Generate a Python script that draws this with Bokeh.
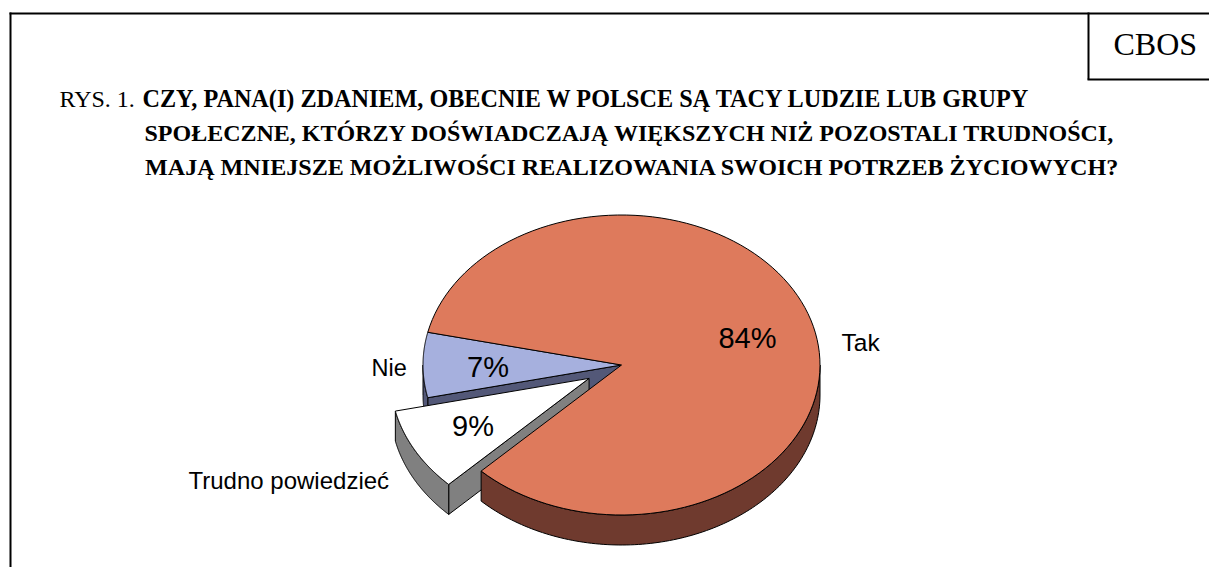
import numpy as np
from bokeh.plotting import figure
from bokeh.models import Range1d
from bokeh.core.properties import value
from bokeh.embed import file_html
from bokeh.resources import INLINE

categories = ["Tak", "Nie", "Trudno powiedzieć"]
shares = [84, 7, 9]
top_colors = ["#DE7A5C", "#A6B0DE", "#FFFFFF"]
side_colors = ["#6F3A2E", "#535878", "#808080"]
title_prefix = "RYS. 1."
title_lines = ["CZY, PANA(I) ZDANIEM, OBECNIE W POLSCE SĄ TACY LUDZIE LUB GRUPY",
               "SPOŁECZNE, KTÓRZY DOŚWIADCZAJĄ WIĘKSZYCH NIŻ POZOSTALI TRUDNOŚCI,",
               "MAJĄ MNIEJSZE MOŻLIWOŚCI REALIZOWANIA SWOICH POTRZEB ŻYCIOWYCH?"]
badge = "CBOS"

CX, CY, RX, RY, DEPTH, EXPLODE = 622.0, 365.5, 198.5, 150.0, 30.0, 37.0
FIRST_ANGLE = 225.0

p = figure(width=1209, height=567, output_backend="svg", toolbar_location=None,
           x_range=Range1d(1, 1210), y_range=Range1d(568, 1), min_border=0)
p.axis.visible = False
p.grid.visible = False
p.outline_line_color = None

# Slice angles (counter-clockwise on screen, 0 = right)
spans = [s / sum(shares) * 360 for s in shares]
starts = [FIRST_ANGLE, FIRST_ANGLE + spans[0], FIRST_ANGLE + spans[0] + spans[1]]


def pt(a, ox, oy, dz=0.0):
    r = np.radians(a)
    return ox + RX * np.cos(r), oy - RY * np.sin(r) + dz


def arc(a0, a1, ox, oy, dz=0.0):
    t = np.radians(np.linspace(a0, a1, 120))
    return ox + RX * np.cos(t), oy - RY * np.sin(t) + dz


def poly(xs, ys, fill):
    p.patch(list(xs), list(ys), fill_color=fill, line_color="black", line_width=1, line_join="round")


def draw(idx, ox, oy, front_face_at_end):
    a0, a1 = starts[idx], starts[idx] + spans[idx]
    # visible rim: the part of the slice in the front half (180..360 deg)
    lo, hi = a0 % 360, a1 % 360
    if hi < lo:
        hi += 360
    segs = []
    for k in (0, 360):
        s, e = max(lo, 180 + k), min(hi, 360 + k)
        if e > s:
            segs.append((s, e))
    # straight cut face that looks towards the viewer
    if front_face_at_end is not None:
        x1, y1 = pt(front_face_at_end, ox, oy)
        poly([ox, x1, x1, ox], [oy, y1, y1 + DEPTH, oy + DEPTH], side_colors[idx])
    for s, e in segs:
        x0, y0 = arc(s, e, ox, oy)
        x1, y1 = arc(s, e, ox, oy, DEPTH)
        poly(np.r_[x0, x1[::-1]], np.r_[y0, y1[::-1]], side_colors[idx])
    xs, ys = arc(a0, a1, ox, oy)
    poly(np.r_[ox, xs], np.r_[oy, ys], top_colors[idx])


# Nie
draw(1, CX, CY, starts[1] + spans[1])
# Trudno powiedzieć (pulled out along its bisector)
mid = np.radians(starts[2] + spans[2] / 2)
ex, ey = CX + EXPLODE * np.cos(mid), CY - EXPLODE * 0.75 * np.sin(mid)
draw(2, ex, ey, FIRST_ANGLE)
# Tak
draw(0, CX, CY, None)


def txt(x, y, s, font, size, style="normal", align="left"):
    p.text([x], [y], text=[s], text_font=value(font), text_font_size=size, text_font_style=style,
           text_align=align, text_baseline="middle", text_color="black")


SERIF, SANS = "Liberation Serif", "Liberation Sans"
txt(60, 99, title_prefix, SERIF, "24px")
txt(143, 99, title_lines[0], SERIF, "24.2px", "bold")
txt(145, 133, title_lines[1], SERIF, "24px", "bold")
txt(145.5, 167.5, title_lines[2], SERIF, "24.1px", "bold")
txt(1114, 44, badge, SERIF, "32px")

txt(748, 338, f"{shares[0]}%", SANS, "29px", align="center")
txt(488.5, 367, f"{shares[1]}%", SANS, "29px", align="center")
txt(473.5, 426, f"{shares[2]}%", SANS, "29px", align="center")
txt(842, 343, categories[0], SANS, "24.5px")
txt(372, 368, categories[1], SANS, "23.5px")
txt(189, 481, categories[2], SANS, "24px")

# frame
p.line([11, 11], [13, 568], line_color="black", line_width=2)
p.line([10, 1210], [14, 14], line_color="black", line_width=2)
p.line([1089, 1089], [13, 80], line_color="black", line_width=2)
p.line([1088, 1210], [80, 80], line_color="black", line_width=2)

open("out.html", "w").write(file_html(p, INLINE))
